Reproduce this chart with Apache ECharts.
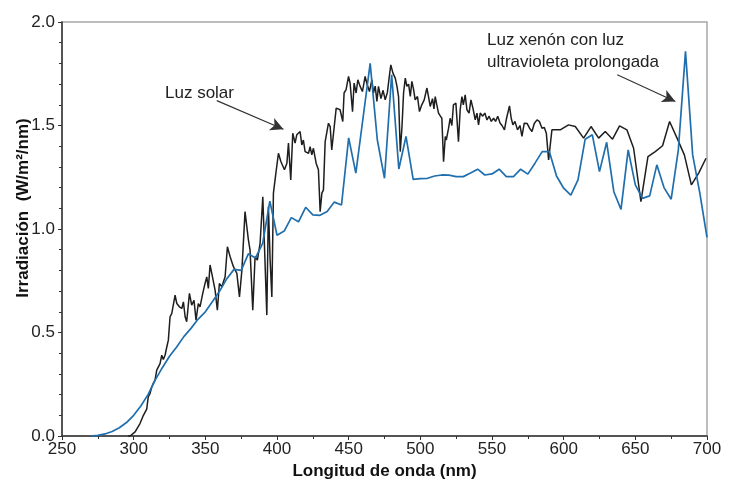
<!DOCTYPE html>
<html>
<head>
<meta charset="utf-8">
<script src="https://cdn.jsdelivr.net/npm/echarts@6/dist/echarts.min.js"></script>
<style>
  html, body { margin: 0; padding: 0; background: #fff; }
  #main { width: 729px; height: 479px; }
</style>
</head>
<body>
<div id="main"></div>
<script>
// Luz solar (espectro medido, muy ruidoso)
const solarWl = [296, 297.5, 301, 304.4, 306.8, 309.1, 310.2, 311.4, 312.6, 313.7, 314.9, 316.1, 317.2, 318.4, 319.6, 320.7,
  321.9, 323.1, 324.2, 325.4, 326.6, 327.7, 328.9, 330.1, 331.9, 333.6, 334.7, 335.9, 337, 338.9, 340.5, 342.1, 343.5,
  345.1, 346.3, 348.2, 349.8, 351, 352.1, 353.3, 354.5, 356.8, 358.4, 359.8, 361.5, 363.8, 365.4, 367.3, 369.6, 372,
  373.8, 375.5, 377.7, 380, 381.2, 383.1, 384.7, 386.3, 388.2, 390.1, 391.2, 392.9, 394, 395.2, 396.4, 397.5, 399.2,
  401, 402.7, 405.2, 406.9, 408, 409.6, 411, 412.6, 413.8, 416.1, 417.3, 418.4, 419.6, 422, 423.1, 424.3, 425.4, 427.3,
  428.9, 430.1, 431.3, 432.4, 433.6, 435.9, 437.1, 438.2, 441.3, 444, 445.9, 446.8, 448.2, 449.9, 451, 452.7, 453.8,
  455.2, 456.4, 458, 459.6, 461.5, 462.8, 464.5, 466.2, 467.3, 468.5, 469.7, 470.8, 472.5, 474, 475.5, 477, 478.5,
  479.4, 480.9, 482.5, 483.7, 484.8, 486, 487.2, 488.3, 489.5, 490.6, 491.8, 493, 494.1, 495.3, 496.4, 498, 499.4,
  501, 502.7, 504.6, 505.7, 506.9, 508.5, 509.5, 510.4, 511.5, 512.7, 514, 515, 516.2, 517.4, 518.1, 519.7, 520.8,
  522, 523.1, 524.8, 526.6, 527.8, 529, 530, 531.3, 532.5, 534, 535.3, 536.8, 538.3, 539.5, 540.6, 541.8, 543.5, 545,
  546.5, 548, 549.5, 551.1, 552.5, 554, 555.7, 557, 558.7, 560, 561.1, 562.2, 563.4, 564.6, 566, 567.8, 569.5, 570.9,
  572.5, 574.5, 576.2, 577.9, 579.5, 581.4, 583, 584.9, 586.5, 587.9, 589.5, 591.8, 597.6, 603.4, 608.1, 613.9, 619.1,
  624.4, 629, 634.1, 639, 644.1, 648.8, 653.9, 658.8, 663.9, 669, 673.9, 679.1, 684.2, 689.1, 694.2, 699.3];
const solarVal = [0, 0, 0.02, 0.06, 0.10, 0.13, 0.19, 0.205, 0.237, 0.254, 0.27, 0.318, 0.326, 0.35, 0.39, 0.37,
  0.39, 0.43, 0.463, 0.576, 0.592, 0.584, 0.68, 0.64, 0.624, 0.616, 0.648, 0.576, 0.552, 0.689, 0.632, 0.656, 0.56,
  0.64, 0.624, 0.689, 0.737, 0.769, 0.713, 0.826, 0.786, 0.705, 0.608, 0.737, 0.721, 0.769, 0.914, 0.866, 0.818, 0.786,
  0.672, 0.80, 1.084, 0.95, 0.898, 0.608, 0.866, 0.85, 0.93, 1.156, 0.93, 0.584, 1.108, 0.85, 0.672, 1.173, 1.269,
  1.366, 1.326, 1.286, 1.318, 1.415, 1.237, 1.463, 1.415, 1.455, 1.471, 1.406, 1.43, 1.374, 1.366, 1.398, 1.358, 1.39, 1.318,
  1.286, 1.084, 1.173, 1.189, 1.422, 1.511, 1.495, 1.382, 1.584, 1.576, 1.519, 1.657, 1.673, 1.737, 1.705, 1.567, 1.705,
  1.657, 1.721, 1.689, 1.664, 1.737, 1.70, 1.664, 1.721, 1.657, 1.69, 1.616, 1.689, 1.63, 1.67, 1.624, 1.66, 1.745,
  1.793, 1.753, 1.729, 1.689, 1.64, 1.374, 1.495, 1.657, 1.729, 1.689, 1.70, 1.64, 1.713, 1.673, 1.624, 1.64, 1.567,
  1.60, 1.624, 1.681, 1.64, 1.592, 1.63, 1.58, 1.64, 1.60, 1.56, 1.545, 1.535, 1.325, 1.447, 1.43, 1.487, 1.535,
  1.50, 1.60, 1.608, 1.422, 1.576, 1.64, 1.60, 1.648, 1.576, 1.56, 1.624, 1.58, 1.527, 1.56, 1.503, 1.56, 1.545, 1.56,
  1.527, 1.545, 1.52, 1.535, 1.52, 1.545, 1.511, 1.50, 1.479, 1.53, 1.535, 1.595, 1.535, 1.503, 1.52, 1.479, 1.50, 1.447,
  1.511, 1.51, 1.487, 1.471, 1.51, 1.527, 1.52, 1.487, 1.49, 1.463, 1.334, 1.479, 1.479, 1.503, 1.495, 1.439, 1.495,
  1.439, 1.471, 1.434, 1.498, 1.479, 1.39, 1.132, 1.35, 1.374, 1.402, 1.519, 1.439, 1.358, 1.213, 1.27, 1.342];

// Luz xenón con luz ultravioleta prolongada (cada 5 nm)
const xenonWl = [270, 275, 280, 285, 290, 295, 300, 305, 310, 315, 320, 325, 330, 335, 340, 345, 350, 355, 360, 365,
  370, 375, 380, 385, 390, 395, 400, 405, 410, 415, 420, 425, 430, 435, 440, 445, 450, 455, 460, 465, 470, 475, 480,
  485, 490, 495, 500, 505, 510, 515, 520, 525, 530, 535, 540, 545, 550, 555, 560, 565, 570, 575, 580, 585, 590, 595,
  600, 605, 610, 615, 620, 625, 630, 635, 640, 645, 650, 655, 660, 665, 670, 675, 680, 685, 690, 695, 700];
const xenonVal = [0, 0.003, 0.01, 0.022, 0.04, 0.065, 0.10, 0.145, 0.20, 0.27, 0.33, 0.385, 0.43, 0.48, 0.52, 0.565,
  0.60, 0.65, 0.70, 0.76, 0.805, 0.80, 0.88, 0.86, 0.93, 1.135, 0.97, 0.99, 1.055, 1.035, 1.105, 1.068, 1.066, 1.085,
  1.13, 1.116, 1.44, 1.27, 1.535, 1.80, 1.43, 1.245, 1.745, 1.29, 1.447, 1.24, 1.243, 1.245, 1.256, 1.261, 1.26, 1.253,
  1.253, 1.27, 1.289, 1.261, 1.266, 1.289, 1.253, 1.253, 1.289, 1.265, 1.318, 1.374, 1.374, 1.256, 1.197, 1.164, 1.237,
  1.434, 1.455, 1.277, 1.419, 1.18, 1.095, 1.382, 1.213, 1.148, 1.16, 1.31, 1.2, 1.144, 1.382, 1.858, 1.358, 1.173, 0.96];

// Flechas de las anotaciones [inicio, punta] en unidades de datos
const arrowSolar = [[358, 1.62], [404.5, 1.482]];
const arrowXenon = [[637.4, 1.745], [677.9, 1.616]];

const FONT = '"Liberation Sans", Arial, sans-serif';

function pairs(xs, ys) {
  return xs.map(function (x, i) { return [x, ys[i]]; });
}

function arrowLine(a) {
  return [[{ coord: a[0], symbol: 'none' }, { coord: a[1], symbol: 'arrow' }]];
}

const chart = echarts.init(document.getElementById('main'), null, { renderer: 'canvas' });

const option = {
  animation: false,
  backgroundColor: '#ffffff',
  grid: {
    left: 62, right: 22, top: 22, bottom: 43,
    outerBoundsMode: 'none', containLabel: false,
    show: true, borderColor: '#a8a8a8', borderWidth: 1.5
  },
  xAxis: {
    type: 'value', min: 250, max: 700, interval: 50,
    axisLine: { lineStyle: { color: '#333', width: 1.5 } },
    axisTick: { show: true, inside: false, length: 4, lineStyle: { color: '#333' } },
    minorTick: { show: true, splitNumber: 2, length: 3, lineStyle: { color: '#333' } },
    splitLine: { show: false },
    axisLabel: { color: '#222', fontSize: 17, fontFamily: FONT, margin: 5 },
    name: 'Longitud de onda (nm)', nameLocation: 'middle', nameGap: 24,
    nameTextStyle: { color: '#111', fontSize: 17, fontWeight: 'bold', fontFamily: FONT }
  },
  yAxis: {
    type: 'value', min: 0, max: 2, interval: 0.5,
    axisLine: { show: true, lineStyle: { color: '#333', width: 1.5 } },
    axisTick: { show: true, inside: false, length: 4, lineStyle: { color: '#333' } },
    minorTick: { show: true, splitNumber: 5, length: 3, lineStyle: { color: '#333' } },
    splitLine: { show: false },
    axisLabel: {
      color: '#222', fontSize: 17, fontFamily: FONT, margin: 7,
      formatter: function (v) { return v.toFixed(1); }
    }
  },
  series: [
    {
      name: 'Luz solar', type: 'line', data: pairs(solarWl, solarVal),
      showSymbol: false, lineStyle: { color: '#1e1e1e', width: 1.5 },
      markLine: {
        silent: true, symbolSize: [10, 13], label: { show: false },
        lineStyle: { color: '#333', width: 1.2, type: 'solid' },
        data: arrowLine(arrowSolar)
      }
    },
    {
      name: 'Luz xenón', type: 'line', data: pairs(xenonWl, xenonVal),
      showSymbol: false, lineStyle: { color: '#1f6fae', width: 1.7 },
      markLine: {
        silent: true, symbolSize: [10, 13], label: { show: false },
        lineStyle: { color: '#333', width: 1.2, type: 'solid' },
        data: arrowLine(arrowXenon)
      }
    }
  ],
  graphic: [
    {
      type: 'text', x: 23, y: 208, rotation: Math.PI / 2,
      style: {
        text: 'Irradiación  (W/m²/nm)', fill: '#111', font: 'bold 17px ' + FONT,
        textAlign: 'center', textVerticalAlign: 'middle'
      }
    },
    {
      type: 'text', x: 165, y: 93,
      style: { text: 'Luz solar', fill: '#222', font: '17px ' + FONT, textVerticalAlign: 'middle' }
    },
    {
      type: 'text', x: 487, y: 40,
      style: { text: 'Luz xenón con luz', fill: '#222', font: '17px ' + FONT, textVerticalAlign: 'middle' }
    },
    {
      type: 'text', x: 487, y: 62,
      style: { text: 'ultravioleta prolongada', fill: '#222', font: '17px ' + FONT, textVerticalAlign: 'middle' }
    }
  ]
};

chart.setOption(option);
</script>
</body>
</html>
